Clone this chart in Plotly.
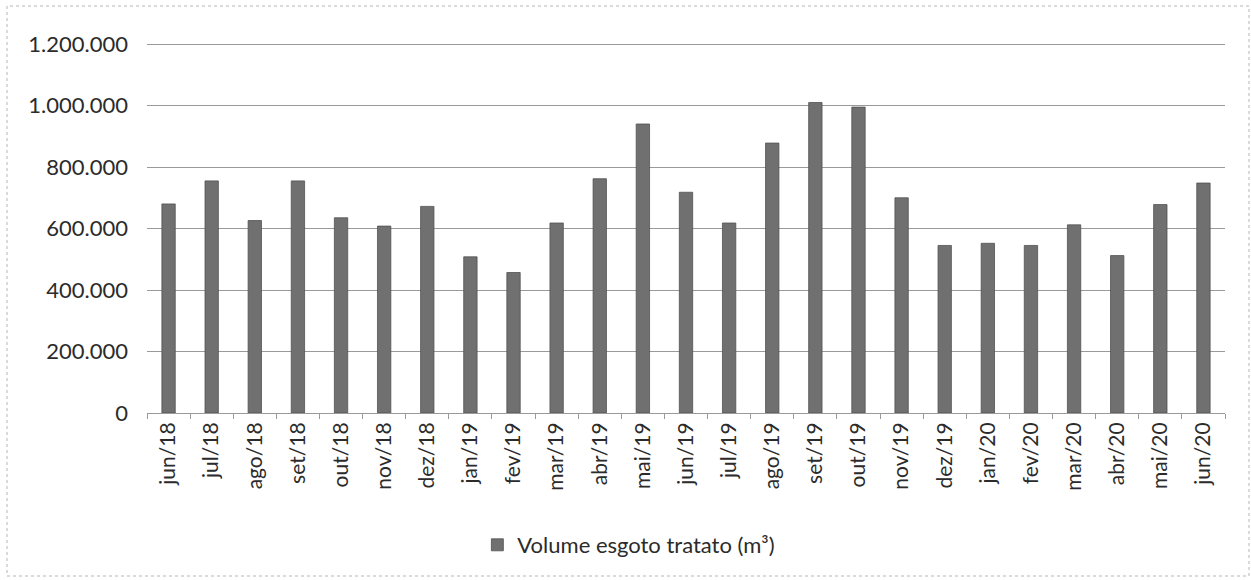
import plotly.graph_objects as go

# Monthly treated sewage volume (m³)
months = ["jun/18", "jul/18", "ago/18", "set/18", "out/18", "nov/18", "dez/18",
          "jan/19", "fev/19", "mar/19", "abr/19", "mai/19", "jun/19", "jul/19",
          "ago/19", "set/19", "out/19", "nov/19", "dez/19", "jan/20", "fev/20",
          "mar/20", "abr/20", "mai/20", "jun/20"]
volume = [680000, 755000, 626000, 755000, 635000, 608000, 672000,
          508000, 457000, 618000, 762000, 940000, 718000, 618000,
          878000, 1010000, 995000, 700000, 545000, 552000, 545000,
          612000, 512000, 678000, 748000]
series_name = "Volume esgoto tratato (m³)"
y_ticks = [0, 200000, 400000, 600000, 800000, 1000000, 1200000]
y_max = 1210000

W, H = 1251, 580
ml, mr, mt, mb = 147, 26, 41, 167
pw, ph = W - ml - mr, H - mt - mb

def px_x(x):
    return (x - ml) / pw

def px_y(y):
    return (H - mb - y) / ph

fig = go.Figure()
fig.add_trace(go.Bar(
    x=months, y=volume, name=series_name,
    marker=dict(color="#707070", line=dict(color="#525252", width=0.8)),
    showlegend=True,
))

font = "Lato, 'Open Sans', sans-serif"
fig.update_layout(
    width=W, height=H,
    margin=dict(l=ml, r=mr, t=mt, b=mb),
    paper_bgcolor="white", plot_bgcolor="white",
    separators=",.",
    bargap=0.69,
    font=dict(family=font, size=22, color="#2b2b2b"),
    showlegend=True,
    legend=dict(orientation="h", x=0.447, xanchor="center",
                y=px_y(545), yanchor="middle", itemwidth=30,
                font=dict(size=22, color="#2b2b2b")),
    xaxis=dict(type="category", tickangle=-90, showgrid=False,
               showline=True, linecolor="#9a9a9a", linewidth=1,
               ticks="outside", tickson="boundaries", ticklen=5,
               tickcolor="#9a9a9a", tickfont=dict(size=21)),
    yaxis=dict(range=[0, y_max], tickvals=y_ticks, tickformat=",d",
               showgrid=True, gridcolor="#9a9a9a", gridwidth=1,
               zeroline=False, showline=False, ticks="",
               ticklabelstandoff=18, tickfont=dict(size=22)),
)

# faint dotted frame around the chart object
fig.add_shape(type="rect", xref="paper", yref="paper",
              x0=px_x(7), x1=px_x(1249), y0=px_y(576), y1=px_y(6),
              line=dict(color="#b5b5b5", width=1, dash="dot"))

fig.write_html("out.html")
